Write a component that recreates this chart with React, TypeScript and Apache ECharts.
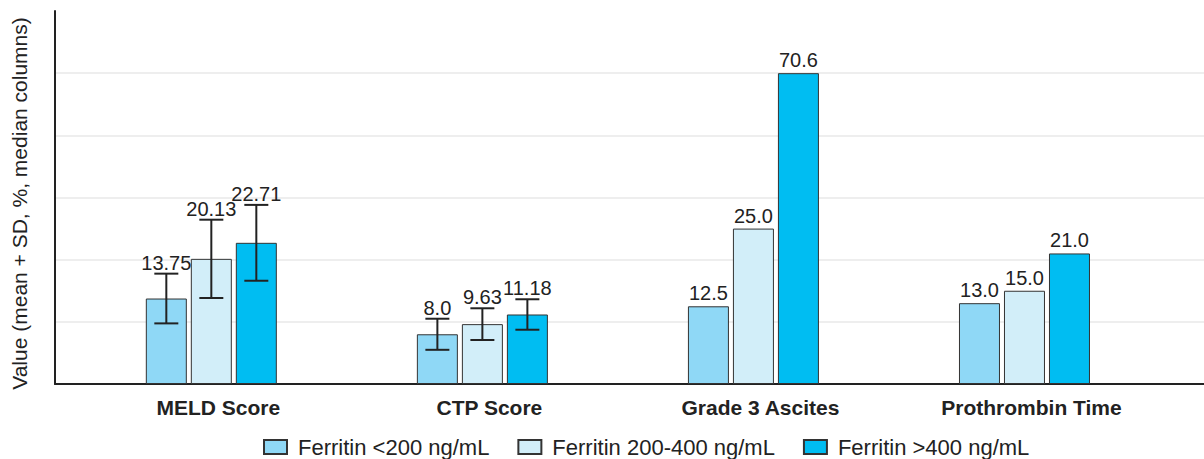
import React, { useEffect, useRef } from "react";
import * as echarts from "echarts";

const categories = ["MELD Score", "CTP Score", "Grade 3 Ascites", "Prothrombin Time"];
const seriesNames = ["Ferritin <200 ng/mL", "Ferritin 200-400 ng/mL", "Ferritin >400 ng/mL"];
const lowValues = [13.75, 8.0, 12.5, 13.0];
const midValues = [20.13, 9.63, 25.0, 15.0];
const highValues = [22.71, 11.18, 70.6, 21.0];
const lowSD = [4.0, 2.5, null, null];
const midSD = [6.3, 2.55, null, null];
const highSD = [6.1, 2.45, null, null];
const colors = ["#8fd8f6", "#d2eef9", "#00bdf2"];

const Y_MAX = 60;
const Y_STEP = 10;
const BAR_CAP = 50; // tall column is drawn truncated at this height in the reference
const BAR_W = 41;
const BAR_PITCH = 45;
const FONT = "'Liberation Sans', Arial, Helvetica, sans-serif";

const allValues = [lowValues, midValues, highValues];
const allSD = [lowSD, midSD, highSD];

function fmt(v: number): string {
  const t = v * 10;
  return Math.abs(t - Math.round(t)) < 1e-9 ? v.toFixed(1) : v.toFixed(2);
}

export default function App() {
  const ref = useRef<HTMLDivElement>(null);
  useEffect(() => {
    if (!ref.current) return;
    const chart = echarts.init(ref.current, null, { renderer: "svg" });

    const barSeries = allValues.map((vals, g) => ({
      type: "bar",
      name: seriesNames[g],
      xAxisIndex: 1,
      yAxisIndex: 1,
      barWidth: BAR_W,
      barGap: ((BAR_PITCH - BAR_W) / BAR_W * 100).toFixed(2) + "%",
      itemStyle: { color: colors[g], borderColor: "#333", borderWidth: 1 },
      data: vals.map((v) => Math.min(v, BAR_CAP)),
      z: 2,
    }));

    const errData: any[] = [];
    allValues.forEach((vals, g) => {
      vals.forEach((v, c) => {
        const sd = allSD[g][c];
        errData.push([c, g, v, sd == null ? -1 : sd]);
      });
    });

    const errSeries = {
      type: "custom",
      xAxisIndex: 1,
      yAxisIndex: 1,
      clip: false,
      z: 5,
      silent: true,
      encode: { x: 0, y: 2 },
      data: errData,
      renderItem: (_params: any, api: any) => {
        const c = api.value(0);
        const g = api.value(1);
        const v = api.value(2);
        const sd = api.value(3);
        const cx = api.coord([c, 0])[0] + (g - 1) * BAR_PITCH;
        const children: any[] = [];
        let topY: number;
        let gap = 3;
        if (sd >= 0) {
          const yTop = api.coord([c, v + sd])[1];
          const yBot = api.coord([c, v - sd])[1];
          const ls = { stroke: "#222", lineWidth: 2 };
          children.push({ type: "line", shape: { x1: cx, y1: yTop, x2: cx, y2: yBot }, style: ls });
          children.push({ type: "line", shape: { x1: cx - 12, y1: yTop, x2: cx + 12, y2: yTop }, style: ls });
          children.push({ type: "line", shape: { x1: cx - 12, y1: yBot, x2: cx + 12, y2: yBot }, style: ls });
          topY = yTop;
          gap = 1;
        } else {
          topY = api.coord([c, Math.min(v, BAR_CAP)])[1];
        }
        children.push({
          type: "text",
          x: cx,
          y: topY - gap,
          style: {
            text: fmt(v),
            fill: "#222",
            font: `20px ${FONT}`,
            align: "center",
            verticalAlign: "bottom",
          },
        });
        return { type: "group", children };
      },
    };

    chart.setOption({
      animation: false,
      textStyle: { fontFamily: FONT },
      grid: [
        { left: 55, right: 0, top: 11, bottom: 75 },
        { left: 75.8, right: 44, top: 11, bottom: 75 },
      ],
      legend: {
        data: seriesNames,
        left: 258,
        top: 431,
        itemWidth: 23,
        itemHeight: 14,
        itemGap: 28,
        icon: "rect",
        textStyle: { fontSize: 22, color: "#222", fontFamily: FONT, padding: [0, 0, 0, 6] },
      },
      xAxis: [
        {
          type: "value",
          gridIndex: 0,
          min: 0,
          max: 1,
          axisLine: { show: true, lineStyle: { color: "#222", width: 2 } },
          axisTick: { show: false },
          axisLabel: { show: false },
          splitLine: { show: false },
        },
        {
          type: "category",
          gridIndex: 1,
          data: categories,
          axisLine: { show: false },
          axisTick: { show: false },
          axisLabel: {
            fontSize: 21,
            fontWeight: "bold",
            color: "#222",
            margin: 13,
            fontFamily: FONT,
            padding: [0, 0, 0, 14],
          },
        },
      ],
      yAxis: [
        {
          type: "value",
          gridIndex: 0,
          min: 0,
          max: Y_MAX,
          interval: Y_STEP,
          name: "Value (mean + SD, %, median columns)",
          nameLocation: "middle",
          nameGap: 25,
          nameTextStyle: { fontSize: 21, color: "#222", fontFamily: FONT, padding: [0, 12, 0, 0] },
          axisLine: { show: true, lineStyle: { color: "#222", width: 2 } },
          axisTick: { show: false },
          axisLabel: { show: false },
          splitLine: { show: true, showMaxLine: false, lineStyle: { color: "#eeeeee", width: 2 } },
        },
        {
          type: "value",
          gridIndex: 1,
          min: 0,
          max: Y_MAX,
          show: false,
          splitLine: { show: false },
        },
      ],
      series: [...barSeries, errSeries],
    });
    return () => chart.dispose();
  }, []);
  return (
    <div
      ref={ref}
      style={{ position: "fixed", left: 0, top: 0, width: 1204, height: 459, background: "#fff" }}
    />
  );
}
